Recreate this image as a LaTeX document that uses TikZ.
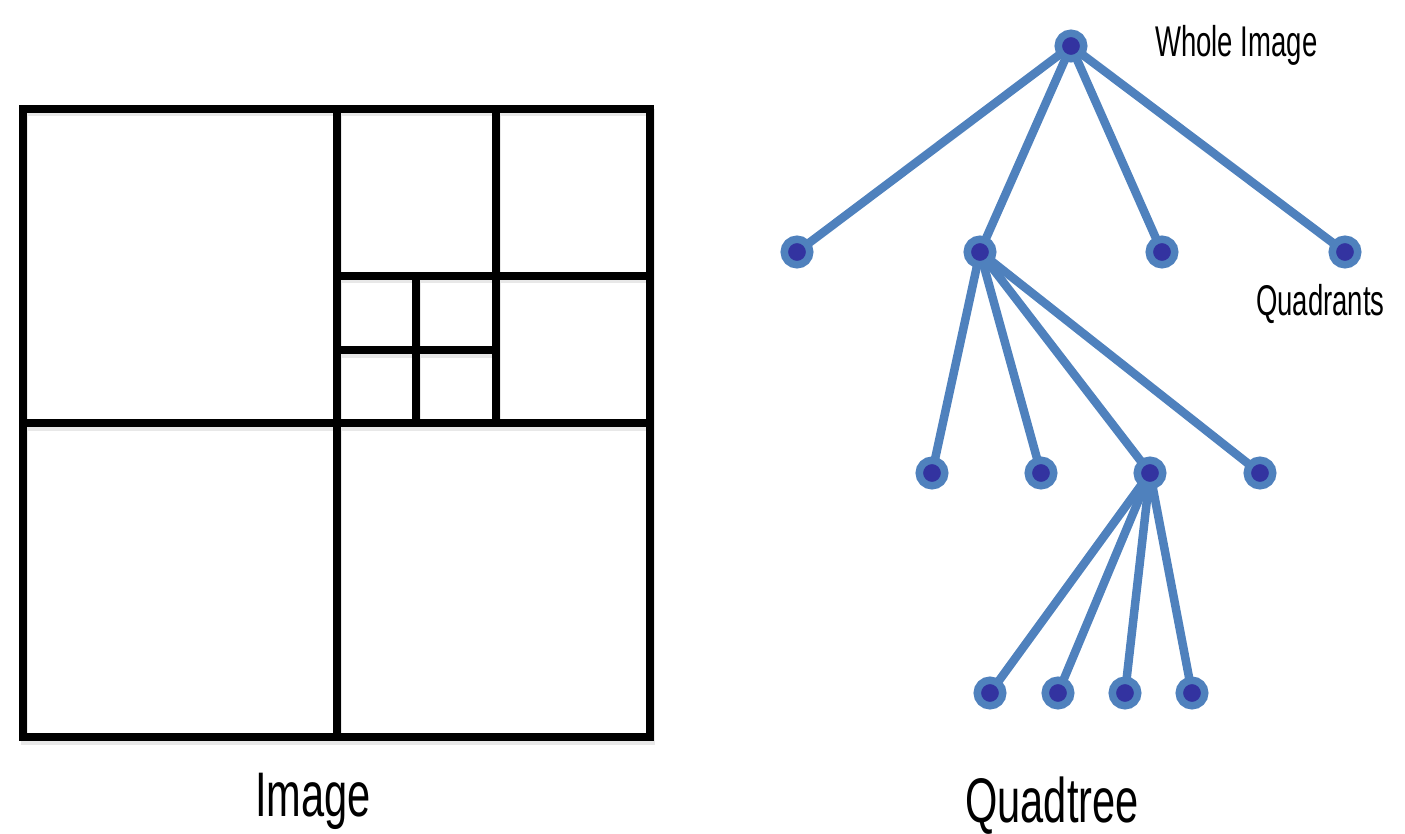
\documentclass[tikz,border=0pt]{standalone}
\usepackage{fontspec}
\newfontfamily\agency[FakeStretch=0.64]{Liberation Sans}
\newfontfamily\agencyt[FakeStretch=0.66]{Liberation Sans}
\definecolor{edgeblue}{HTML}{4F81BD}
\definecolor{dotblue}{HTML}{3333A0}
\begin{document}
\begin{tikzpicture}[x=1pt,y=-1pt,
  gridline/.style={line width=7.2pt,line cap=rect,black},
  shadowline/.style={line width=7pt,black!9,line cap=rect},
  tnode/.style={circle,fill=dotblue,draw=edgeblue,line width=7.5pt,minimum size=25.5pt,inner sep=0pt},
  tedge/.style={edgeblue,line width=8.5pt},
  lbl/.style={font=\agency\fontsize{43}{43}\selectfont,inner sep=0pt,anchor=base west},
  title/.style={font=\agencyt\fontsize{63}{63}\selectfont,inner sep=0pt,anchor=base}]
\useasboundingbox (0,0) rectangle (1405,834);
% shadows
\begin{scope}[shift={(1,4)}]
\draw[shadowline] (23,109) rectangle (650,737);
\draw[shadowline] (337,109) -- (337,737);
\draw[shadowline] (23,423) -- (650,423);
\draw[shadowline] (496,109) -- (496,423);
\draw[shadowline] (337,276) -- (650,276);
\draw[shadowline] (416,276) -- (416,423);
\draw[shadowline] (337,350) -- (496,350);
\end{scope}
% grid
\draw[gridline] (23,109) rectangle (650,737);
\draw[gridline] (337,109) -- (337,737);
\draw[gridline] (23,423) -- (650,423);
\draw[gridline] (496,109) -- (496,423);
\draw[gridline] (337,276) -- (650,276);
\draw[gridline] (416,276) -- (416,423);
\draw[gridline] (337,350) -- (496,350);
% tree node positions
\foreach \n/\x/\y in {r/1071/46,a1/797/252,a2/980/252,a3/1162/252,a4/1345/252,b1/932/473,b2/1041/473,b3/1150/473,b4/1260/473,c1/990/693,c2/1058/693,c3/1125/693,c4/1192/693}{
  \coordinate (\n) at (\x,\y);
}
% edges
\foreach \p/\c in {r/a1,r/a2,r/a3,r/a4,a2/b1,a2/b2,a2/b3,a2/b4,b3/c1,b3/c2,b3/c3,b3/c4}{
  \draw[tedge] (\p) -- (\c);
}
% nodes on top
\foreach \n in {r,a1,a2,a3,a4,b1,b2,b3,b4,c1,c2,c3,c4}{
  \node[tnode] (n\n) at (\n) {};
}
% labels
\node[lbl] (whole) at (1155,57) {Whole Image};
\node[lbl] (quad) at (1256,315) {Quadrants};
\node[title] (img) at (313,816) {Image};
\node[title] (qt) at (1052,822) {Quadtree};
\end{tikzpicture}
\end{document}
